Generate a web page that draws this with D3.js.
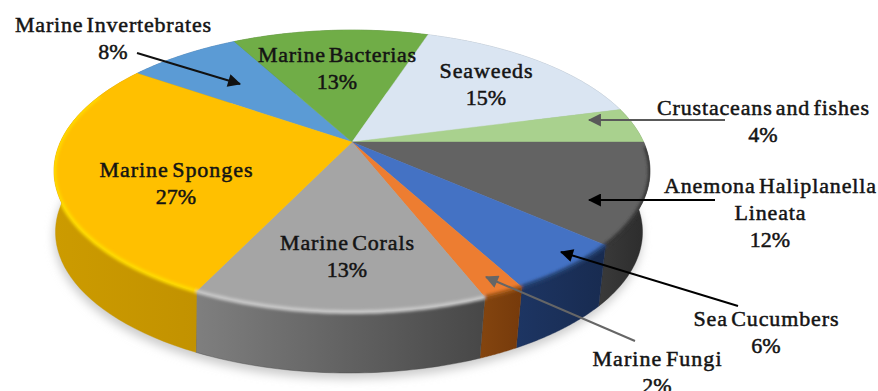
<!DOCTYPE html>
<html>
<head>
<meta charset="utf-8">
<style>
  html, body { margin: 0; padding: 0; background: #fff; overflow: hidden; }
  text { font-family: "Liberation Serif", serif; font-size: 22px; fill: #141414; stroke: #141414; stroke-width: 0.5px; text-anchor: middle; word-spacing: -3px; }
</style>
<script src="https://cdn.jsdelivr.net/npm/d3@7"></script>
</head>
<body>
<svg id="chart" width="878" height="391"></svg>
<script>
// Sources of the compounds, in percent, clockwise from the upper left
const categories = ["Marine Invertebrates", "Marine Bacterias", "Seaweeds", "Crustaceans and fishes",
  "Anemona Haliplanella Lineata", "Sea Cucumbers", "Marine Fungi", "Marine Corals", "Marine Sponges"];
const shares = [8, 13, 15, 4, 12, 6, 2, 13, 27];

// Fill colours per slice
const faceColors = ["#5B9BD5", "#70AD47", "#DAE5F2", "#A9D18E", "#636363", "#4472C4", "#ED7D31", "#A5A5A5", "#FFC000"];
const wallFrom = ["#3f6e99", "#4f7a32", "#9aa2ab", "#77945f", "#3a3a3a", "#1d3563", "#84450f", "#7f7f7f", "#cc9b00"];
const wallTo = ["#3f6e99", "#4f7a32", "#9aa2ab", "#77945f", "#2b2b2b", "#182b50", "#763a0b", "#474747", "#c29200"];
const bevelColors = ["#5B9BD5", "#70AD47", "#DAE5F2", "#A9D18E", "#353535", "#24406f", "#9a5214", "#c9c9c9", "#FFDC00"];

// Text blocks and callout arrows
const labelLines = [
  ["Marine Invertebrates", "8%"], ["Marine Bacterias", "13%"], ["Seaweeds", "15%"],
  ["Crustaceans and fishes", "4%"], ["Anemona Haliplanella", "Lineata", "12%"],
  ["Sea Cucumbers", "6%"], ["Marine Fungi", "2%"], ["Marine Corals", "13%"], ["Marine Sponges", "27%"]
];
const labelX = [113, 337, 486, 763, 770, 766, 657, 347, 176];
const labelY = [32, 62, 78, 115, 193, 326, 366, 250, 177];
const nameWidths = [196, 158, 93, 212, 212, 145, 129, 134, 153];
const secondLineWidth = 71;
const arrowFrom = [[137, 53], null, null, [725, 120], [715, 200], [738, 306], [635, 341], null, null];
const arrowTo = [[240, 84], null, null, [589, 120], [589, 200], [561, 252], [486, 277], null, null];
const arrowColor = ["#111", null, null, "#595959", "#000", "#000", "#666", null, null];

const toRad = Math.PI / 180;
const svg = d3.select("#chart");
const defs = svg.append("defs");

// Tilted disc: a circle seen in perspective, hub above the centre of its outline
const hub = { x: 352, y: 142 };
const tilt = { a: 291.6, b: 135, k: 0.206, skew: 4 * toRad };
const depth = { dx: -3, dy: 61, inset: 0.985 };

function project(theta, lower) {
  const phi = theta - tilt.skew * Math.cos(theta) ** 2;
  const X = Math.sin(phi), Y = -Math.cos(phi), w = 1 - tilt.k * Y;
  const x = tilt.a * X / w, y = tilt.b * Y / w;
  return lower ? [hub.x + depth.dx + x * depth.inset, hub.y + y + depth.dy] : [hub.x + x, hub.y + y];
}
function rim(a0, a1, lower) {
  return d3.range(0, 1.0001, 1 / 48).map(t => project(a0 + (a1 - a0) * t, lower));
}
const pathLine = d3.line();
const startAngle = -54 * toRad;
const arcs = d3.pie().sort(null).startAngle(startAngle).endAngle(startAngle + 2 * Math.PI)(shares);

const wallPath = d => pathLine(rim(d.startAngle, d.endAngle, false).concat(rim(d.startAngle, d.endAngle, true).reverse())) + "Z";
const facePath = d => pathLine([[hub.x, hub.y]].concat(rim(d.startAngle, d.endAngle, false))) + "Z";

// Blur filters for the ground shadow and the soft rim edge
defs.append("filter").attr("id", "groundBlur").attr("x", "-10%").attr("y", "-20%").attr("width", "120%").attr("height", "140%")
  .append("feGaussianBlur").attr("stdDeviation", 5);
defs.append("filter").attr("id", "rimBlur").attr("filterUnits", "userSpaceOnUse")
  .attr("x", 0).attr("y", 0).attr("width", 878).attr("height", 391)
  .append("feGaussianBlur").attr("stdDeviation", 1.6);

// The disc outline keeps the rim glow from spilling onto the page
defs.append("clipPath").attr("id", "discClip").selectAll("path")
  .data(arcs.flatMap(d => [wallPath(d), facePath(d)])).join("path").attr("d", d => d);

// Arrowheads coloured per callout
arrowColor.forEach((c, i) => {
  if (!c) return;
  defs.append("marker").attr("id", "head" + i).attr("markerUnits", "userSpaceOnUse")
    .attr("viewBox", "0 0 12 12").attr("refX", 11).attr("refY", 6)
    .attr("markerWidth", 14).attr("markerHeight", 13).attr("orient", "auto")
    .append("path").attr("d", "M0,0L12,6L0,12Z").attr("fill", c);
});

// Wall shading runs left to right
arcs.forEach((d, i) => {
  const g = defs.append("linearGradient").attr("id", "wall" + i);
  g.append("stop").attr("offset", "0%").attr("stop-color", wallFrom[i]);
  g.append("stop").attr("offset", "100%").attr("stop-color", wallTo[i]);
});

// Ground shadow under the disc
svg.append("ellipse").attr("cx", hub.x - 4).attr("cy", 237).attr("rx", 294).attr("ry", 142)
  .attr("fill", "#cccccc").attr("filter", "url(#groundBlur)");

// Walls, then faces over them
svg.append("g").selectAll("path").data(arcs).join("path")
  .attr("d", wallPath)
  .attr("fill", (d, i) => `url(#wall${i})`)
  .attr("stroke", (d, i) => wallTo[i]).attr("stroke-width", 0.4);

svg.append("g").selectAll("path").data(arcs).join("path")
  .attr("d", facePath)
  .attr("fill", (d, i) => faceColors[i])
  .attr("stroke", (d, i) => faceColors[i]).attr("stroke-width", 0.4);

// Soft bevel along the near edge of the disc only
const bevelFrom = 92 * toRad, bevelUntil = 292 * toRad;
svg.append("g").attr("clip-path", "url(#discClip)")
  .append("g").attr("filter", "url(#rimBlur)").selectAll("path").data(arcs).join("path")
  .attr("d", d => {
    const s = d.startAngle < 0 ? d.startAngle + 2 * Math.PI : d.startAngle;
    const e = d.endAngle < s ? d.endAngle + 2 * Math.PI : d.endAngle;
    const a0 = Math.max(s, bevelFrom), a1 = Math.min(e, bevelUntil);
    return a1 > a0 ? pathLine(rim(a0, a1, false)) : null;
  })
  .attr("fill", "none").attr("stroke", (d, i) => bevelColors[i]).attr("stroke-width", 4);

// Callout arrows
svg.append("g").selectAll("line").data(arrowFrom.map((p, i) => ({ p, i })).filter(d => d.p)).join("line")
  .attr("x1", d => d.p[0]).attr("y1", d => d.p[1])
  .attr("x2", d => arrowTo[d.i][0]).attr("y2", d => arrowTo[d.i][1])
  .attr("stroke", d => arrowColor[d.i]).attr("stroke-width", 2)
  .attr("marker-end", d => `url(#head${d.i})`);

// Labels: name lines and percentage, 27px apart
const labels = svg.append("g").selectAll("text").data(labelLines.map((lines, i) => ({ lines, i }))).join("text")
  .attr("y", d => labelY[d.i]);
labels.selectAll("tspan")
  .data(d => d.lines.map((t, row) => ({ t, row, i: d.i, total: d.lines.length })))
  .join("tspan")
  .attr("x", d => labelX[d.i])
  .attr("dy", d => d.row ? 27 : 0)
  .attr("textLength", d => d.row === 0 ? nameWidths[d.i] : (d.total === 3 && d.row === 1 ? secondLineWidth : null))
  .attr("lengthAdjust", "spacing")
  .text(d => d.t);
</script>
</body>
</html>
